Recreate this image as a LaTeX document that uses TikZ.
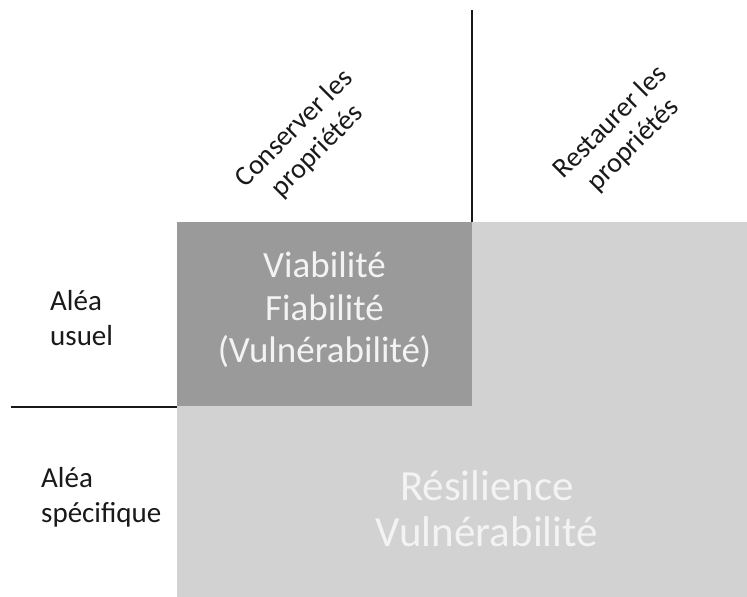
\documentclass[tikz,border=0pt]{standalone}
\usepackage{fontspec}
\setmainfont{Carlito}
\definecolor{grisfonce}{RGB}{154,154,154}
\definecolor{grisclair}{RGB}{210,210,210}
\definecolor{blanccasse}{RGB}{243,243,243}
\tikzset{
  alea/.style={inner sep=0pt, anchor=west, align=left, text=black!90, font=\fontsize{29}{35}\selectfont},
  propr/.style={inner sep=0pt, rotate=45, align=center, text=black!90, font=\fontsize{28}{32}\selectfont},
}
\begin{document}
\begin{tikzpicture}[x=1pt,y=-1pt]
        \useasboundingbox (0,0) rectangle (747,597);
        %ZONES
        \fill[grisclair] (177,222) rectangle (747,597);
        \fill[grisfonce] (177,222) rectangle (472,406);
        %SEPARATEURS
        \draw[black!90,line width=1.6pt] (472,10) -- (472,222);
        \draw[black!90,line width=1.6pt] (11,407) -- (177,407);

        \node[propr] (conserver) at (306,140) {Conserver les\\propriétés};
        \node[propr] (restaurer) at (622,134) {Restaurer les\\propriétés};
        \node[alea] (usuel) at (50,318) {Aléa\\usuel};
        \node[alea] (specifique) at (41,497) {Aléa\\spécifique};
        \node[inner sep=0pt, align=center, text=blanccasse, font=\fontsize{37}{42.5}\selectfont] (viab) at (324.5,310) {Viabilité\\Fiabilité\\(Vulnérabilité)};
        \node[inner sep=0pt, align=center, text=blanccasse, font=\fontsize{43}{46}\selectfont] (resil) at (487,509) {Résilience\\Vulnérabilité};
    \end{tikzpicture}
\end{document}
